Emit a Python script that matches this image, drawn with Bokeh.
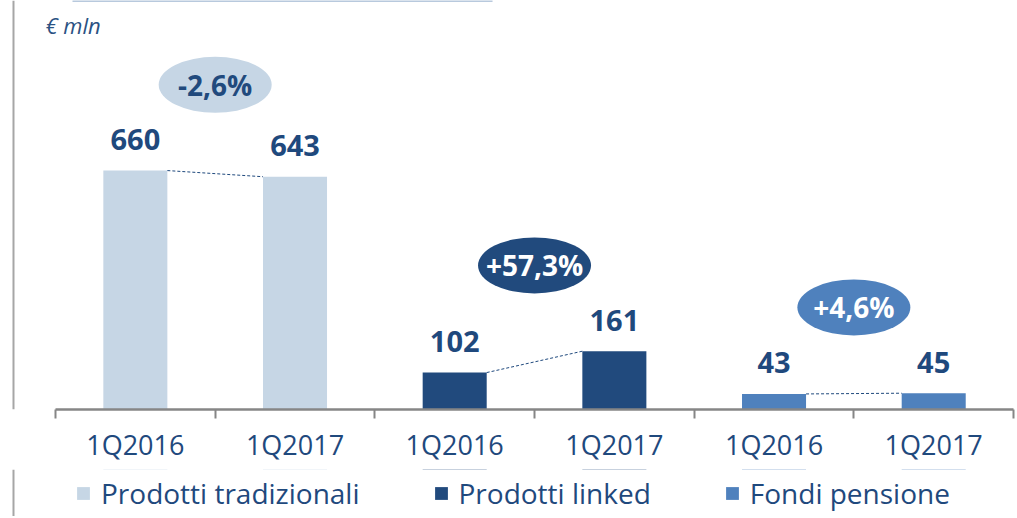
from bokeh.plotting import figure
from bokeh.layouts import column
from bokeh.models import Range1d, FixedTicker, Legend, LegendItem, Label, Span, ColumnDataSource
from bokeh.core.properties import value
from bokeh.embed import file_html
from bokeh.resources import INLINE

# ---- data ----
periods = ["1Q2016", "1Q2017"]
series_names = ["Prodotti tradizionali", "Prodotti linked", "Fondi pensione"]
tradizionali = [660, 643]
linked = [102, 161]
pensione = [43, 45]
changes = ["-2,6%", "+57,3%", "+4,6%"]
unit_label = "€ mln"

# ---- styles ----
bar_colors = ["#C6D6E5", "#214A7D", "#4F81BD"]
change_text_colors = ["#214A7D", "#FFFFFF", "#FFFFFF"]
navy = "#1F497D"
grey = "#868686"
bar_width = 0.401

x_range = Range1d(-0.3445, 6.006)

p = figure(width=1015, height=469, output_backend="svg", toolbar_location=None,
           x_range=x_range, y_range=Range1d(0, 1129.8),
           y_axis_location=None,
           min_border_left=0, min_border_right=1, min_border_top=0, min_border_bottom=60)
p.outline_line_color = None
p.xgrid.visible = False
p.ygrid.visible = False

all_series = [tradizionali, linked, pensione]
n_groups = len(all_series)
sources = []
for i, vals in enumerate(all_series):
    xs = [2 * i + j + 0.5 for j in range(len(vals))]
    src = ColumnDataSource(dict(x=xs, top=vals, lab=[str(v) for v in vals]))
    sources.append(src)
    p.vbar(x="x", top="top", width=bar_width, source=src,
           fill_color=bar_colors[i], line_color=None)
    p.text(x="x", y="top", text="lab", source=src, y_offset=-31,
           text_align="center", text_baseline="middle",
           text_font=value("Open Sans"), text_font_style="bold",
           text_font_size="29px", text_color=navy)
    # dashed connector
    p.segment(x0=[xs[0] + bar_width / 2], y0=[vals[0]],
              x1=[xs[1] - bar_width / 2], y1=[vals[1]],
              line_color=navy, line_width=1, line_dash="3 2")
    # change bubble
    cy = max(vals) + 237
    p.ellipse(x=[2 * i + 1], y=[cy], width=113, height=56,
              width_units="screen", height_units="screen",
              fill_color=bar_colors[i], line_color=None)
    p.text(x=[2 * i + 1], y=[cy], text=[changes[i]], y_offset=0,
           text_align="center", text_baseline="middle",
           text_font=value("Open Sans"), text_font_style="bold",
           text_font_size="28px", text_color=change_text_colors[i])

# x axis
centers = [k + 0.5 for k in range(2 * n_groups)]
p.xaxis.ticker = FixedTicker(ticks=centers, minor_ticks=list(range(2 * n_groups + 1)))
p.xaxis.major_label_overrides = {c: periods[k % 2] for k, c in enumerate(centers)}
p.xaxis.bounds = (0, 2 * n_groups)
p.xaxis.axis_line_color = grey
p.xaxis.axis_line_width = 2.5
p.xaxis.major_tick_line_color = None
p.xaxis.major_tick_out = 0
p.xaxis.major_tick_in = 0
p.xaxis.minor_tick_in = 0
p.xaxis.minor_tick_out = 9
p.xaxis.minor_tick_line_color = grey
p.xaxis.minor_tick_line_width = 2
p.xaxis.major_label_standoff = 7
p.xaxis.major_label_text_font = "Open Sans"
p.xaxis.major_label_text_font_size = "27px"
p.xaxis.major_label_text_color = navy

# left border line and top rule
p.add_layout(Span(location=-0.2631, dimension="height", line_color="#A6A6A6", line_width=2))
p.segment(x0=[0.1064], x1=[2.737], y0=[1128.5], y1=[1128.5], line_color="#B8C9DD", line_width=2)

# unit label
p.add_layout(Label(x=-0.0627, y=1062, text=unit_label, text_font="Open Sans",
                   text_font_style="italic", text_font_size="22px",
                   text_color="#2B5283", text_baseline="middle"))

# legend strip (bars drawn here lie outside its visible y range)
p2 = figure(width=1015, height=47, output_backend="svg", toolbar_location=None,
            x_range=x_range, y_range=Range1d(-2, -1),
            x_axis_location=None, y_axis_location=None,
            min_border_left=0, min_border_right=1, min_border_top=0, min_border_bottom=0)
p2.outline_line_color = None
p2.xgrid.visible = False
p2.ygrid.visible = False
p2.add_layout(Span(location=-0.2631, dimension="height", line_color="#A6A6A6", line_width=2))
legend_renderers = [p2.vbar(x="x", top="top", width=bar_width, source=sources[i],
                            fill_color=c, line_color=None)
                    for i, c in enumerate(bar_colors)]
legend = Legend(items=[LegendItem(label=name, renderers=[legend_renderers[i]])
                       for i, name in enumerate(series_names)],
                location=(75, 4), orientation="horizontal",
                padding=0, margin=0, spacing=73, border_line_color=None,
                background_fill_alpha=0, glyph_width=16, glyph_height=16,
                label_standoff=10, label_text_font="Open Sans",
                label_text_font_size="28px", label_text_color=navy)
p2.add_layout(legend, "center")

layout = column(p, p2, spacing=0)
open("out.html", "w").write(file_html(layout, INLINE))
